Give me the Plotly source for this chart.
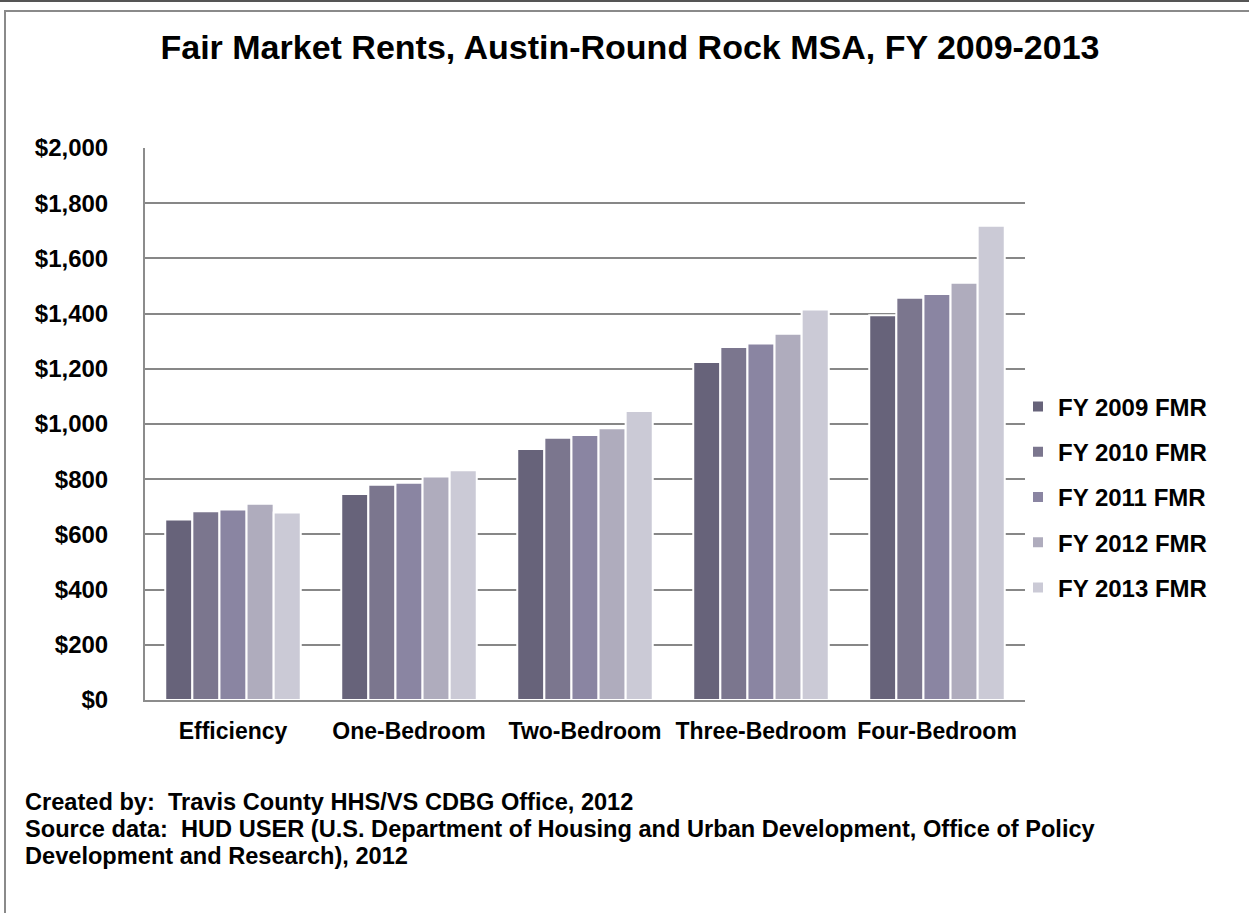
import plotly.graph_objects as go

categories = ["Efficiency", "One-Bedroom", "Two-Bedroom", "Three-Bedroom", "Four-Bedroom"]
series_names = ["FY 2009 FMR", "FY 2010 FMR", "FY 2011 FMR", "FY 2012 FMR", "FY 2013 FMR"]
fy2009 = [654, 746, 909, 1225, 1394]
fy2010 = [684, 780, 950, 1279, 1457]
fy2011 = [690, 787, 960, 1292, 1471]
fy2012 = [711, 810, 985, 1327, 1512]
fy2013 = [679, 832, 1047, 1415, 1718]
colors = ["#67637a", "#7b768e", "#8a85a2", "#afacbd", "#cbcad6"]

title_text = "Fair Market Rents, Austin-Round Rock MSA, FY 2009-2013"
footer_lines = [
    "Created by:  Travis County HHS/VS CDBG Office, 2012",
    "Source data:  HUD USER (U.S. Department of Housing and Urban Development, Office of Policy",
    "Development and Research), 2012",
]

W, H = 1249, 913
L, T = 145, 148
PW, PH = 880, 552
R, B = W - L - PW, H - T - PH


def px(x):  # screen x -> paper
    return (x - L) / PW


def py(y):  # screen y -> paper
    return (T + PH - y) / PH


FONT = "Liberation Sans, Arial, sans-serif"

fig = go.Figure()
for i, (name, vals) in enumerate(zip(series_names, [fy2009, fy2010, fy2011, fy2012, fy2013])):
    fig.add_trace(go.Bar(
        x=categories, y=vals, name="<b>" + name + "</b>",
        marker=dict(color=colors[i], line=dict(color="white", width=2)),
        legendgroup=name,
    ))

fig.update_layout(
    width=W, height=H,
    margin=dict(l=L, r=R, t=T, b=B, autoexpand=False),
    paper_bgcolor="white", plot_bgcolor="white",
    barmode="group", bargap=0.23, bargroupgap=0.0,
    font=dict(family=FONT, color="black", size=22),
    title=dict(text="<b>" + title_text + "</b>", x=630 / W, xref="container",
               xanchor="center", y=1 - 47 / H, yref="container", yanchor="middle",
               font=dict(size=34, family=FONT, color="black")),
    legend=dict(x=px(1018), xanchor="left", y=py(497), yanchor="middle",
                font=dict(size=24, family=FONT, color="black"),
                tracegroupgap=11, bgcolor="rgba(0,0,0,0)", itemwidth=30),
    showlegend=True,
)
fig.update_xaxes(
    showline=True, linecolor="#8c8c8c", linewidth=2, showgrid=False,
    tickfont=dict(size=23, family=FONT), ticks="", ticklabelstandoff=9,
    tickvals=categories, ticktext=["<b>" + c + "</b>" for c in categories],
)
fig.update_yaxes(
    range=[0, 2000], dtick=200, tickprefix="<b>$", ticksuffix="</b>", tickformat=",d",
    showgrid=True, gridcolor="#878787", gridwidth=2,
    showline=True, linecolor="#8c8c8c", linewidth=2, zeroline=False,
    tickfont=dict(size=24, family=FONT), ticks="", ticklabelstandoff=30,
)

# frame lines
fig.add_shape(type="line", xref="paper", yref="paper", x0=px(-5), x1=px(1260), y0=py(1), y1=py(1),
              line=dict(color="#555555", width=2))
fig.add_shape(type="rect", xref="paper", yref="paper", x0=px(5), x1=px(1270), y0=py(11), y1=py(930),
              line=dict(color="#8a8a8a", width=2), fillcolor="rgba(0,0,0,0)", layer="below")

for k, line in enumerate(footer_lines):
    fig.add_annotation(
        xref="paper", yref="paper", x=px(23), y=py(802 + 27 * k), xanchor="left", yanchor="middle",
        align="left", showarrow=False, text="<b>" + line + "</b>",
        font=dict(size=23.6, family=FONT, color="black"),
    )

fig.write_html("out.html", config={"displayModeBar": False},
               post_script="document.body.style.margin='0px';")
